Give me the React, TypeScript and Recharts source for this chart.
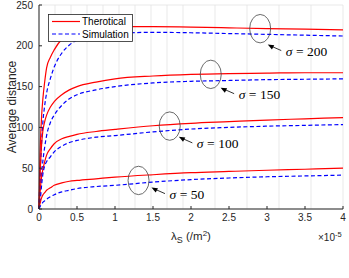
import React from "react";
import {
  LineChart,
  Line,
  XAxis,
  YAxis,
  CartesianGrid,
  Legend,
  ReferenceDot,
  Label,
} from "recharts";

// lambda_S in units of 1e-5 /m^2
const lambdaVals = [0, 0.01, 0.02, 0.035, 0.05, 0.075, 0.1, 0.15, 0.2, 0.3, 0.4, 0.5, 0.75, 1, 1.5, 2, 2.5, 3, 3.5, 4];

const theo200 = [0, 55, 85, 115, 134, 156, 173, 186, 195, 208, 215, 219.5, 222.5, 223.5, 223.5, 223, 222, 221, 220.5, 219.5];
const sim200 = [0, 30, 52, 82, 105, 127, 142, 160, 174, 191, 201, 207, 212.5, 215, 216.5, 216, 215, 214, 213, 212];
const theo150 = [0, 32, 55, 80, 95, 107, 115, 125, 131.5, 140, 146, 150, 155.5, 159.5, 163, 165, 166, 166.5, 167, 167];
const sim150 = [0, 15, 30, 45, 58, 76, 90, 106, 115, 127, 135, 140, 146, 150, 154.5, 156.5, 157.5, 158.5, 159, 159.5];
const theo100 = [0, 15, 27, 40, 48, 58, 66, 74, 80, 86, 89, 91.5, 95, 97.5, 102, 105, 107, 109, 110.5, 112];
const sim100 = [0, 6, 14, 30, 42, 53, 58, 64, 70, 77, 81.5, 84, 88, 90, 94.5, 98, 100, 101.5, 102.5, 103.5];
const theo50 = [0, 5, 9, 14, 17, 20, 23, 26, 29, 32, 34, 35, 37, 39, 42, 44.5, 46, 47.5, 48.7, 50];
const sim50 = [0, 2, 4, 6, 8, 10, 12, 15, 17.5, 21, 23, 25, 27.5, 29, 33, 36, 38, 39.5, 40.5, 41.5];

const xTicks = [0, 0.5, 1, 1.5, 2, 2.5, 3, 3.5, 4];
const yTicks = [0, 50, 100, 150, 200, 250];

// ellipse centres and arrow tips (data coordinates) for the sigma annotations
const sigmaLabels = ["200", "150", "100", "50"];
const ellipseX = [2.91, 2.26, 1.72, 1.31];
const ellipseY = [221, 165, 101.6, 35];
const arrowX = [3.01, 2.39, 1.84, 1.48];
const arrowY = [201.5, 148.7, 88.4, 26.2];

const data = lambdaVals.map((x, i) => ({
  x,
  t200: theo200[i],
  s200: sim200[i],
  t150: theo150[i],
  s150: sim150[i],
  t100: theo100[i],
  s100: sim100[i],
  t50: theo50[i],
  s50: sim50[i],
}));

const RED = "#ff0000";
const BLUE = "#0000ff";
const FRAME = "#262626";
const SANS = "'Liberation Sans', Arial, sans-serif";
const SERIF = "'Liberation Serif', 'Times New Roman', serif";
const DASH = "4 2.5";

const tickStyle = { fontSize: 10, fill: FRAME, fontFamily: SANS };

function EllipseShape(props: any) {
  const { cx, cy } = props;
  return <ellipse cx={cx} cy={cy} rx={10.5} ry={14.2} fill="none" stroke="#444" strokeWidth={0.8} />;
}

function ArrowLabel(label: string) {
  return function Shape(props: any) {
    const { cx, cy } = props;
    const tx = cx + 13.5;
    const ty = cy + 6;
    return (
      <g>
        <line x1={cx + 4} y1={cy + 1.8} x2={tx} y2={ty} stroke="#000" strokeWidth={0.8} />
        <polygon
          points={`${cx},${cy} ${cx + 6.5},${cy + 0.6} ${cx + 4.2},${cy + 5}`}
          fill="#000"
        />
        <text
          x={cx + 18}
          y={cy + 11}
          fontFamily={SERIF}
          fontSize={13.5}
          fill="#000"
        >
          <tspan fontStyle="italic">σ</tspan>
          <tspan dx={3.5}>=</tspan>
          <tspan dx={3.5}>{label}</tspan>
        </text>
      </g>
    );
  };
}

function LegendBox() {
  return (
    <svg width={85} height={28} style={{ display: "block" }}>
      <rect x={0.5} y={0.5} width={84} height={27} fill="#fff" stroke={FRAME} strokeWidth={0.8} />
      <line x1={4} y1={7.5} x2={32} y2={7.5} stroke={RED} strokeWidth={1.2} />
      <text x={34} y={11} fontFamily={SANS} fontSize={10} fill="#000">
        Therotical
      </text>
      <line x1={4} y1={20} x2={32} y2={20} stroke={BLUE} strokeWidth={1.2} strokeDasharray={DASH} />
      <text x={34} y={23.5} fontFamily={SANS} fontSize={10} fill="#000">
        Simulation
      </text>
    </svg>
  );
}

const series = [
  { key: "t200", color: RED, dash: undefined },
  { key: "s200", color: BLUE, dash: DASH },
  { key: "t150", color: RED, dash: undefined },
  { key: "s150", color: BLUE, dash: DASH },
  { key: "t100", color: RED, dash: undefined },
  { key: "s100", color: BLUE, dash: DASH },
  { key: "t50", color: RED, dash: undefined },
  { key: "s50", color: BLUE, dash: DASH },
];

export default function App() {
  return (
    <div style={{ position: "absolute", left: 0, top: 0, background: "#fff" }}>
      <LineChart width={349} height={278} data={data} margin={{ top: 5, right: 6, bottom: 0, left: 0 }}>
        <CartesianGrid stroke="#e3e3e3" strokeWidth={0.8} />
        <XAxis
          xAxisId="b"
          dataKey="x"
          type="number"
          domain={[0, 4]}
          ticks={xTicks}
          height={41}
          stroke={FRAME}
          tick={tickStyle}
          tickSize={-3}
          tickMargin={8}
          interval={0}
        >
          <Label
            content={(p: any) => {
              const vb = p.viewBox;
              return (
                <g fontFamily={SANS} fill={FRAME}>
                  <text x={vb.x + vb.width / 2} y={vb.y + 31} textAnchor="middle" fontSize={11.5}>
                    <tspan>λ</tspan>
                    <tspan fontSize={9} dy={3}>S</tspan>
                    <tspan dy={-3}> (/m</tspan>
                    <tspan fontSize={8} dy={-4}>2</tspan>
                    <tspan dy={4}>)</tspan>
                  </text>
                  <text x={vb.x + vb.width - 25} y={vb.y + 32} fontSize={10}>
                    <tspan>×10</tspan>
                    <tspan fontSize={7.5} dy={-4}>-5</tspan>
                  </text>
                </g>
              );
            }}
          />
        </XAxis>
        <XAxis
          xAxisId="t"
          orientation="top"
          dataKey="x"
          type="number"
          domain={[0, 4]}
          ticks={xTicks}
          height={0}
          stroke={FRAME}
          tick={false}
          tickSize={-3}
        />
        <YAxis
          yAxisId="l"
          type="number"
          domain={[0, 250]}
          ticks={yTicks}
          width={39}
          stroke={FRAME}
          tick={tickStyle}
          tickSize={-3}
          tickMargin={9}
          interval={0}
        >
          <Label
            content={(p: any) => {
              const vb = p.viewBox;
              const cy = vb.y + vb.height / 2;
              return (
                <text
                  x={12}
                  y={cy}
                  transform={`rotate(-90, 12, ${cy})`}
                  textAnchor="middle"
                  dominantBaseline="central"
                  fontFamily={SANS}
                  fontSize={12}
                  fill={FRAME}
                >
                  Average distance
                </text>
              );
            }}
          />
        </YAxis>
        <YAxis
          yAxisId="r"
          orientation="right"
          type="number"
          domain={[0, 250]}
          ticks={yTicks}
          width={0}
          stroke={FRAME}
          tick={false}
          tickSize={-3}
        />
        {series.map((s) => (
          <Line
            key={s.key}
            xAxisId="b"
            yAxisId="l"
            dataKey={s.key}
            type="monotone"
            stroke={s.color}
            strokeWidth={1.2}
            strokeDasharray={s.dash}
            dot={false}
            activeDot={false}
            isAnimationActive={false}
          />
        ))}
        {sigmaLabels.map((lab, i) => (
          <ReferenceDot
            key={"e" + lab}
            xAxisId="b"
            yAxisId="l"
            x={ellipseX[i]}
            y={ellipseY[i]}
            shape={EllipseShape}
          />
        ))}
        {sigmaLabels.map((lab, i) => (
          <ReferenceDot
            key={"a" + lab}
            xAxisId="b"
            yAxisId="l"
            x={arrowX[i]}
            y={arrowY[i]}
            shape={ArrowLabel(lab)}
          />
        ))}
        <Legend
          content={() => <LegendBox />}
          wrapperStyle={{ position: "absolute", left: 48, top: 14, width: 85, height: 28 }}
        />
      </LineChart>
    </div>
  );
}
